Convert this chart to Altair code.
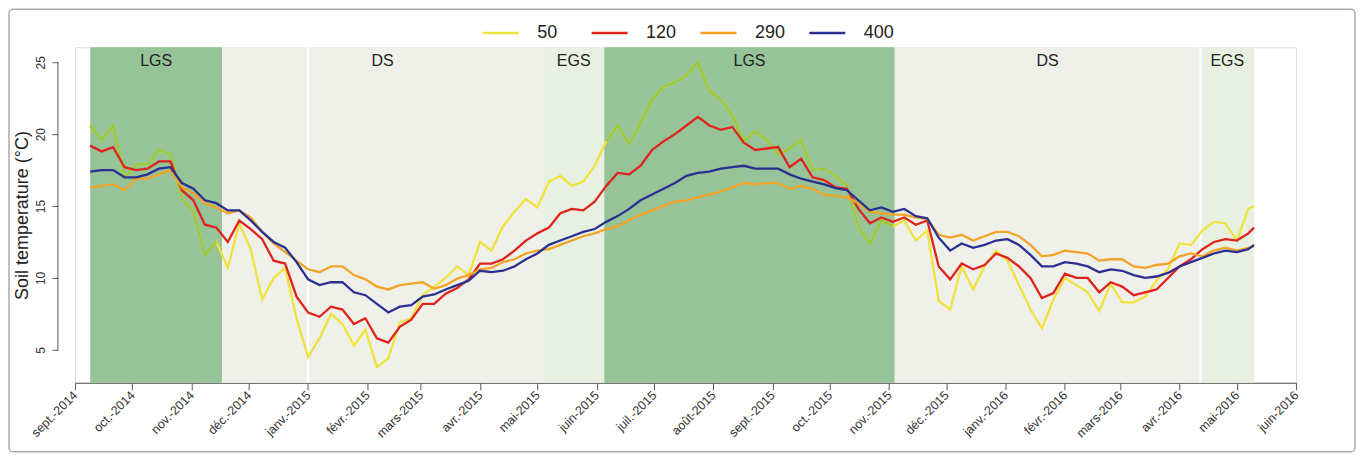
import altair as alt
import pandas as pd

# ---------------- data ----------------
SERIES = ["50", "120", "290", "400"]
COLORS = ["#EFE33C", "#E0231C", "#F2A428", "#2B3090"]
LGS_50_COLOR = "#98C83A"

sample_dates = list(pd.date_range("2014-09-09", periods=102, freq="6D").strftime("%Y-%m-%d")) + ["2016-05-10"]

t50 = [20.6, 19.6, 20.6, 17.0, 17.9, 17.9, 18.9, 18.6, 15.5, 14.6,
       11.6, 12.5, 10.7, 13.8, 12.0, 8.5, 10.0, 10.7, 7.2, 4.5,
       5.8, 7.5, 6.8, 5.3, 6.4, 3.8, 4.4, 6.9, 7.2, 8.8,
       9.4, 10.0, 10.8, 10.2, 12.5, 11.9, 13.6, 14.6, 15.5, 14.9,
       16.7, 17.1, 16.4, 16.7, 17.8, 19.5, 20.6, 19.3, 20.8, 22.4,
       23.3, 23.6, 24.1, 25.0, 23.0, 22.4, 21.3, 19.5, 20.2, 19.6,
       18.6, 19.0, 19.6, 17.5, 17.6, 17.1, 16.4, 13.5, 12.4, 14.0,
       13.6, 14.0, 12.6, 13.3, 8.4, 7.8, 10.8, 9.2, 10.8, 11.9,
       11.2, 9.5, 7.8, 6.5, 8.5, 10.0, 9.5, 9.0, 7.7, 9.6,
       8.3, 8.3, 8.7, 9.8, 10.6, 12.4, 12.3, 13.3, 13.9, 13.8,
       12.6, 14.8, 15.0]
t120 = [19.2, 18.8, 19.1, 17.7, 17.5, 17.6, 18.1, 18.1, 16.1, 15.4,
        13.7, 13.5, 12.5, 14.0, 13.4, 12.7, 11.2, 11.0, 8.7, 7.6,
        7.3, 8.0, 7.8, 6.8, 7.2, 5.8, 5.5, 6.6, 7.1, 8.2,
        8.2, 8.9, 9.3, 9.9, 11.0, 11.0, 11.3, 11.9, 12.6, 13.1,
        13.5, 14.5, 14.8, 14.7, 15.3, 16.4, 17.3, 17.2, 17.8, 18.9,
        19.5, 20.0, 20.6, 21.2, 20.6, 20.3, 20.5, 19.4, 18.9, 19.0,
        19.1, 17.7, 18.3, 17.0, 16.8, 16.3, 16.2, 14.8, 13.8, 14.2,
        13.9, 14.2, 13.7, 14.0, 10.8, 9.9, 11.0, 10.6, 10.9, 11.7,
        11.4, 10.8, 10.0, 8.6, 8.95, 10.3, 10.0, 10.0, 9.0, 9.7,
        9.4, 8.8, 9.0, 9.2, 10.0, 10.8, 11.3, 12.0, 12.5, 12.7,
        12.6, 13.1, 13.5]
t290 = [16.3, 16.4, 16.5, 16.1, 16.9, 16.9, 17.2, 17.5, 16.3, 15.9,
        15.2, 14.9, 14.5, 14.7, 14.2, 13.2, 12.4, 11.8, 11.2, 10.6,
        10.4, 10.8, 10.8, 10.2, 9.9, 9.4, 9.2, 9.5, 9.6, 9.7,
        9.25, 9.5, 9.95, 10.2, 10.6, 10.7, 11.1, 11.3, 11.7, 11.9,
        12.0, 12.3, 12.6, 12.9, 13.1, 13.4, 13.6, 14.0, 14.4, 14.7,
        15.0, 15.3, 15.4, 15.6, 15.8, 16.0, 16.3, 16.6, 16.5, 16.6,
        16.6, 16.2, 16.4, 16.2, 15.8, 15.7, 15.6, 15.2, 14.6, 14.5,
        14.4, 14.4, 14.2, 14.1, 13.0, 12.8, 13.0, 12.6, 12.9, 13.2,
        13.2, 12.9, 12.3, 11.5, 11.6, 11.9, 11.8, 11.7, 11.2, 11.3,
        11.3, 10.8, 10.7, 10.9, 11.0, 11.5, 11.7, 11.5, 11.9, 12.1,
        11.9, 12.1, 12.2]
t400 = [17.4, 17.5, 17.5, 17.0, 17.0, 17.2, 17.6, 17.7, 16.6, 16.2,
        15.4, 15.2, 14.7, 14.7, 14.0, 13.2, 12.5, 12.1, 11.1, 9.9,
        9.5, 9.7, 9.7, 9.0, 8.8, 8.2, 7.6, 8.0, 8.1, 8.7,
        8.85, 9.2, 9.5, 9.8, 10.5, 10.4, 10.5, 10.8, 11.3, 11.7,
        12.3, 12.6, 12.9, 13.2, 13.4, 13.9, 14.3, 14.8, 15.4, 15.8,
        16.2, 16.6, 17.1, 17.3, 17.4, 17.6, 17.7, 17.8, 17.6, 17.6,
        17.6, 17.2, 16.9, 16.7, 16.5, 16.25, 16.1, 15.4, 14.7, 14.9,
        14.6, 14.8, 14.3, 14.15, 12.8, 11.9, 12.4, 12.1, 12.3, 12.6,
        12.7, 12.3, 11.6, 10.8, 10.8, 11.1, 11.0, 10.8, 10.4, 10.6,
        10.5, 10.2, 10.0, 10.1, 10.35, 10.8, 11.1, 11.4, 11.7, 11.9,
        11.8, 12.0, 12.3]

PERIOD_LABELS = ["LGS", "DS", "EGS", "LGS", "DS", "EGS"]
PERIOD_START = ["2014-09-09", "2014-11-17", "2015-05-04", "2015-06-05", "2015-11-04", "2016-04-12"]
PERIOD_END = ["2014-11-17", "2015-05-04", "2015-06-05", "2015-11-04", "2016-04-12", "2016-05-10"]
PERIOD_FILL = {"LGS": "#96C398", "DS": "#F0F0EB", "EGS": "#E8F1E1"}
SEPARATORS = ["2015-01-01", "2016-04-12"]

MONTH_TICKS = [(2014, m) for m in range(9, 13)] + [(2015, m) for m in range(1, 13)] + [(2016, m) for m in range(1, 7)]
MONTH_NAMES = ["janv.", "févr.", "mars", "avr.", "mai", "juin", "juil.", "août", "sept.", "oct.", "nov.", "déc."]
Y_TICKS = [5, 10, 15, 20, 25]

# ---------------- tables ----------------
values = {"50": t50, "120": t120, "290": t290, "400": t400}
rows = []
for s in SERIES:
    for d, v in zip(sample_dates, values[s]):
        rows.append({"date": d, "depth": s, "temp": v})
lines_df = pd.DataFrame(rows)

periods_df = pd.DataFrame({"label": PERIOD_LABELS, "start": PERIOD_START, "end": PERIOD_END})
periods_df["fill"] = periods_df["label"].map(PERIOD_FILL)
periods_df["mid"] = (pd.to_datetime(periods_df["start"]) +
                     (pd.to_datetime(periods_df["end"]) - pd.to_datetime(periods_df["start"])) / 2
                     ).dt.strftime("%Y-%m-%dT%H:%M:%SZ")

ov = []
d50 = lines_df[lines_df.depth == "50"].copy()
dd = pd.to_datetime(d50["date"])
for k, (lab, s, e) in enumerate(zip(PERIOD_LABELS, PERIOD_START, PERIOD_END)):
    if lab == "LGS":
        part = d50[(dd >= pd.Timestamp(s)) & (dd <= pd.Timestamp(e))].copy()
        part["seg"] = k
        ov.append(part)
overlay_df = pd.concat(ov)

sep_df = pd.DataFrame({"date": SEPARATORS})

# ---------------- scales / axes ----------------
x_scale = alt.Scale(type="utc",
                    domain=[alt.DateTime(year=2014, month=9, date=1, utc=True),
                            alt.DateTime(year=2016, month=6, date=1, utc=True)])
y_scale = alt.Scale(domain=[2.71, 26.04], nice=False, zero=False)

label_expr = ("[" + ",".join("'%s'" % m for m in MONTH_NAMES) + "][utcmonth(datum.value)]"
              " + '-' + utcyear(datum.value)")
x_axis = alt.Axis(
    title=None,
    values=[alt.DateTime(year=y, month=m, date=1, utc=True) for y, m in MONTH_TICKS],
    labelExpr=label_expr, labelAngle=315, labelAlign="right", labelBaseline="middle",
    labelPadding=3, tickSize=7, tickColor="#555", domainColor="#555",
    labelFontSize=12.5, labelColor="#333", grid=False, labelFlush=False, labelOverlap=False,
)
y_axis = alt.Axis(
    title="Soil temperature (°C)", values=Y_TICKS, offset=17, domain=False,
    tickSize=6, tickColor="#555", labelAngle=270, labelAlign="center", labelBaseline="bottom",
    labelPadding=4, labelFontSize=12, labelColor="#333", grid=False,
    titleFontSize=18, titleFontWeight="normal", titleColor="#222", titlePadding=3,
)

W, H = 1223, 336

bands = alt.Chart(periods_df).mark_rect().encode(
    x=alt.X("start:T", scale=x_scale, axis=x_axis),
    x2="end:T",
    fill=alt.Fill("fill:N", scale=None),
)
seps = alt.Chart(sep_df).mark_rule(color="white", strokeWidth=2).encode(
    x=alt.X("date:T", scale=x_scale, axis=x_axis),
)
labels = alt.Chart(periods_df).mark_text(fontSize=16, color="#222", baseline="middle").encode(
    x=alt.X("mid:T", scale=x_scale, axis=x_axis),
    y=alt.value(14),
    text="label:N",
)

color_enc = alt.Color(
    "depth:N",
    scale=alt.Scale(domain=SERIES, range=COLORS),
    legend=alt.Legend(
        title=None, orient="none", direction="horizontal", legendX=407, legendY=-34,
        symbolType="stroke", symbolSize=1300, symbolStrokeWidth=2.5,
        labelFontSize=18, labelColor="#222", labelOffset=17, columnPadding=18,
        gridAlign="all",
    ),
    sort=SERIES,
)

line50 = alt.Chart(lines_df[lines_df.depth == "50"]).mark_line(strokeWidth=2.3).encode(
    x=alt.X("date:T", scale=x_scale, axis=x_axis),
    y=alt.Y("temp:Q", scale=y_scale, axis=y_axis),
    color=color_enc,
)
overlay = alt.Chart(overlay_df).mark_line(strokeWidth=2.3, color=LGS_50_COLOR).encode(
    x=alt.X("date:T", scale=x_scale, axis=x_axis),
    y=alt.Y("temp:Q", scale=y_scale, axis=y_axis),
    detail="seg:N",
)
others = alt.Chart(lines_df[lines_df.depth != "50"]).mark_line(strokeWidth=2.3).encode(
    x=alt.X("date:T", scale=x_scale, axis=x_axis),
    y=alt.Y("temp:Q", scale=y_scale, axis=y_axis),
    color=color_enc,
    detail="depth:N",
)

y_rule = alt.Chart(pd.DataFrame({"a": [0]})).mark_rule(color="#555", strokeWidth=1).encode(
    x=alt.value(-17),
    y=alt.Y(datum=Y_TICKS[0], scale=y_scale, axis=y_axis),
    y2=alt.Y2(datum=Y_TICKS[-1]),
)

frame = alt.Chart(pd.DataFrame({"a": [0]})).mark_rect(
    filled=False, color="#ababab", strokeWidth=1.5, cornerRadius=4
).encode(
    x=alt.value(-66), x2=alt.value(W + 59), y=alt.value(-38), y2=alt.value(H + 69),
)

chart = alt.layer(bands, seps, labels, line50, overlay, others, y_rule, frame).properties(
    width=W, height=H,
    padding={"left": 67, "top": 39, "right": 61, "bottom": 71},
    autosize=alt.AutoSizeParams(type="none"),
    background="white",
).configure_view(strokeWidth=0).configure(font="Liberation Sans")

chart.save("out.html", embed_options={"renderer": "svg", "actions": False})
